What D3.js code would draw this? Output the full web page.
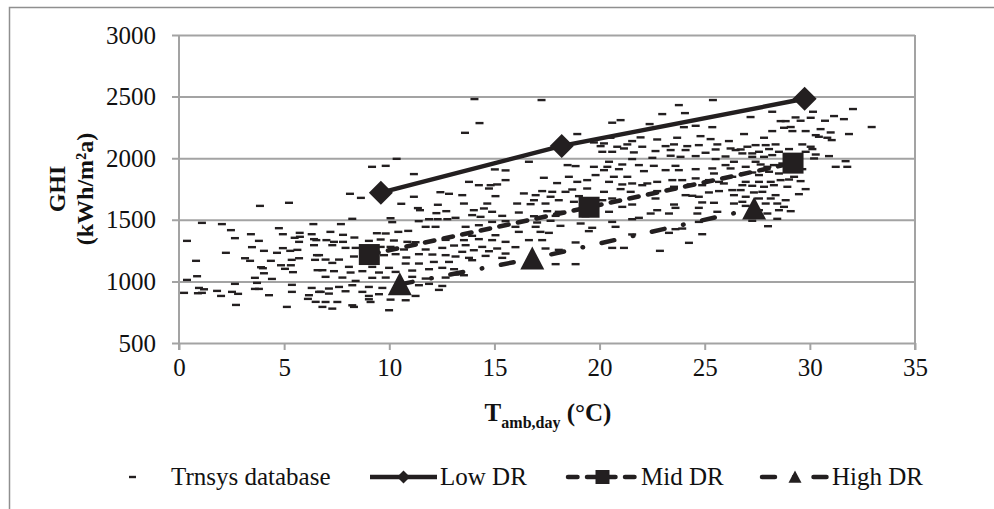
<!DOCTYPE html>
<html>
<head>
<meta charset="utf-8">
<script src="https://cdn.jsdelivr.net/npm/d3@7"></script>
<style>
  body { margin: 0; background: #fff; }
  text { font-family: "Liberation Serif", "Times New Roman", serif; fill: #111; }
</style>
</head>
<body>
<div id="chart"></div>
<script>
// Axis ticks
const xTicks = [0, 5, 10, 15, 20, 25, 30, 35];
const yTicks = [500, 1000, 1500, 2000, 2500, 3000];

// Design-ratio curves [T_amb,day, GHI]
const lowDR = [[9.6, 1720], [18.2, 2100], [29.75, 2482]];
const midDR = [[9.05, 1218], [19.5, 1602], [29.2, 1960]];
const highDR = [[10.5, 976], [16.8, 1185], [27.35, 1590]];

// Trnsys database locations [T_amb,day, GHI]
const trnsysPoints = [
  [3.85,1613],[5.23,1638],[1.09,1475],[2.04,1465],[2.47,1416],[6.39,1465],[3.42,1383],[4.94,1383],
  [5.74,1394],[6.31,1383],[0.38,1329],[2.66,1351],[3.80,1329],[4.75,1432],[5.50,1354],[5.75,1362],
  [5.71,1321],[6.42,1343],[6.53,1335],[6.42,1294],[3.47,1278],[4.04,1248],[4.94,1270],[4.66,1232],
  [5.29,1248],[5.63,1256],[2.23,1232],[0.81,1167],[3.14,1188],[3.38,1167],[4.37,1167],[5.36,1175],
  [5.71,1188],[6.47,1175],[4.85,1131],[5.32,1131],[3.90,1115],[3.99,1107],[5.04,1102],[5.42,1075],
  [4.04,1066],[6.56,1213],[6.59,1091],[0.86,1042],[0.38,1012],[3.61,1029],[4.42,1020],[2.66,980],
  [3.71,988],[5.37,972],[0.95,947],[1.19,936],[0.24,907],[1.09,907],[1.81,923],[2.00,882],
  [2.52,915],[2.81,899],[3.61,939],[3.80,939],[4.28,888],[5.37,915],[6.31,947],[6.66,915],
  [6.18,888],[6.13,858],[6.50,834],[2.71,809],[5.13,793],[0.9,904],
  [10.35,1995],[9.18,1930],[9.83,1938],[11.17,1871],[8.13,1711],[8.65,1678],[12.43,1724],[12.84,1711],
  [11.17,1687],[10.57,1630],[12.31,1622],[11.36,1595],[11.46,1578],[12.24,1554],[12.71,1570],[8.24,1508],
  [10.06,1513],[10.14,1481],[11.40,1489],[11.89,1505],[12.30,1505],[12.76,1505],[13.15,1516],[7.70,1465],
  [7.20,1402],[7.80,1378],[8.34,1356],[9.41,1391],[9.83,1389],[10.43,1402],[10.90,1410],[11.73,1443],
  [12.20,1443],[7.01,1335],[7.37,1321],[7.80,1321],[9.03,1329],[9.59,1340],[10.22,1332],[10.86,1321],
  [11.25,1318],[12.68,1337],[7.29,1294],[7.92,1272],[8.40,1272],[9.03,1267],[9.59,1280],[10.06,1280],
  [10.70,1259],[11.73,1259],[12.52,1272],[13.08,1291],[6.66,1213],[7.61,1177],[6.97,1177],[8.32,1202],
  [9.03,1215],[9.75,1213],[10.30,1221],[10.81,1194],[11.41,1221],[12.05,1218],[12.68,1213],[13.15,1202],
  [7.29,1150],[8.08,1118],[9.19,1118],[9.99,1110],[10.78,1145],[11.41,1145],[12.12,1158],[12.84,1158],
  [6.82,1091],[7.37,1083],[8.16,1072],[8.72,1083],[9.51,1072],[10.30,1077],[11.09,1088],[11.89,1099],
  [12.52,1110],[13.08,1099],[6.97,1037],[7.77,1031],[8.40,1004],[9.19,1029],[9.83,1031],[11.09,1037],
  [11.73,1023],[12.68,1031],[13.15,1056],[7.13,942],[7.61,955],[8.24,969],[9.03,955],[9.67,947],
  [11.41,969],[11.89,980],[12.52,963],[6.74,915],[7.13,901],[7.92,920],[8.72,915],[9.03,882],
  [9.51,896],[11.25,882],[12.36,931],[6.97,833],[7.53,833],[8.24,806],[9.03,855],[9.11,833],
  [10.06,852],[10.78,847],[6.82,793],[7.29,779],[8.32,793],[9.99,766],
  [14.05,2480],[17.24,2472],[14.29,2285],[13.60,2206],[18.94,2196],[19.73,2128],[16.64,1971],[18.48,1944],
  [18.86,1936],[19.73,1930],[15.53,1901],[15.02,1909],[13.79,1808],[14.26,1781],[14.82,1781],[15.13,1787],
  [15.53,1822],[17.35,1841],[17.98,1798],[18.54,1849],[18.94,1808],[19.41,1822],[19.81,1863],[14.74,1754],
  [17.27,1733],[17.75,1727],[18.70,1746],[19.41,1754],[13.47,1700],[15.05,1692],[16.40,1714],[16.96,1700],
  [17.67,1687],[18.38,1727],[19.02,1692],[16.88,1659],[18.06,1659],[18.78,1646],[13.55,1632],[14.66,1632],
  [16.08,1632],[16.72,1627],[17.43,1632],[19.65,1619],[14.02,1578],[14.50,1592],[14.89,1565],[16.16,1559],
  [17.51,1570],[18.06,1565],[13.94,1538],[14.34,1524],[15.37,1532],[16.88,1529],[17.91,1532],[19.33,1529],
  [14.89,1483],[15.53,1489],[17.03,1478],[17.67,1492],[19.10,1470],[19.65,1435],[13.63,1443],[14.26,1456],
  [16.00,1443],[16.96,1443],[18.14,1451],[19.49,1408],[13.94,1370],[15.05,1375],[16.16,1402],[17.19,1402],
  [17.59,1394],[13.55,1335],[14.26,1343],[14.89,1335],[15.53,1321],[16.64,1335],[17.27,1335],[18.86,1316],
  [13.63,1294],[14.42,1280],[15.13,1267],[16.00,1278],[17.43,1267],[13.47,1240],[14.02,1253],[14.74,1245],
  [15.53,1226],[18.06,1256],[13.79,1191],[14.58,1207],[15.37,1191],[13.94,1172],[17.91,1140],[18.86,1140],
  [13.55,1050],
  [25.39,2472],[23.77,2431],[21.00,2309],[20.60,2288],[22.98,2358],[24.06,2366],[22.38,2277],[21.95,2169],
  [24.57,2263],[25.36,2252],[24.01,2252],[20.52,2166],[21.55,2139],[22.74,2152],[23.69,2166],[24.80,2179],
  [25.28,2155],[20.21,2120],[21.32,2112],[22.03,2093],[23.14,2098],[23.54,2112],[24.17,2098],[24.72,2106],
  [25.60,2112],[26.15,2139],[26.23,2079],[20.05,2098],[20.84,2093],[20.13,2052],[20.60,2052],[21.16,2079],
  [21.63,2047],[22.66,2058],[23.38,2066],[24.09,2066],[25.04,2044],[25.52,2071],[26.47,2066],[20.45,1971],
  [21.55,1993],[22.51,2003],[23.38,2020],[23.85,2011],[24.57,2017],[25.52,1993],[25.99,2014],[26.39,1971],
  [20.37,1930],[21.08,1949],[21.87,1944],[22.58,1938],[23.61,1938],[24.57,1911],[25.36,1917],[25.99,1944],
  [20.21,1903],[20.92,1911],[22.11,1895],[23.14,1903],[23.77,1903],[25.44,1876],[26.23,1917],[20.68,1849],
  [21.32,1849],[22.27,1795],[22.74,1808],[23.46,1822],[23.93,1822],[24.57,1836],[25.20,1822],[25.68,1808],
  [26.31,1849],[20.45,1808],[21.08,1787],[21.55,1795],[22.03,1781],[23.54,1768],[24.33,1787],[24.88,1781],
  [25.91,1795],[26.31,1741],[20.21,1727],[21.00,1749],[21.48,1727],[22.74,1733],[24.09,1700],[24.72,1687],
  [25.20,1722],[25.68,1733],[26.39,1700],[20.13,1659],[20.60,1673],[21.55,1624],[22.66,1673],[23.54,1624],
  [24.41,1695],[24.88,1641],[25.44,1638],[26.39,1632],[21.08,1605],[22.74,1578],[23.61,1597],[24.72,1597],
  [20.45,1565],[22.43,1551],[25.60,1565],[21.87,1516],[21.55,1505],[23.30,1551],[24.65,1551],[24.72,1483],
  [20.60,1483],[20.76,1443],[23.61,1424],[23.93,1429],[23.30,1394],[24.88,1383],[21.55,1381],[24.25,1313],
  [20.60,1272],[21.16,1272],[22.87,1248],
  [32.05,2399],[31.15,2342],[31.62,2317],[32.94,2253],[30.15,2377],[30.04,2328],[29.56,2304],[29.32,2331],
  [30.72,2304],[27.18,2334],[28.21,2377],[28.61,2301],[28.85,2301],[28.77,2247],[29.09,2253],[30.51,2236],
  [29.80,2220],[30.99,2209],[31.86,2196],[26.87,2196],[27.82,2166],[28.21,2220],[29.17,2220],[30.28,2187],
  [30.43,2174],[30.83,2166],[31.04,2147],[27.42,2106],[27.03,2093],[26.71,2071],[27.90,2106],[28.37,2112],
  [29.64,2112],[30.04,2093],[30.12,2074],[29.01,2074],[26.79,2039],[27.26,2039],[27.58,2052],[28.06,2074],
  [28.53,2052],[29.80,2052],[30.28,2030],[30.20,1998],[30.91,2017],[31.70,1976],[31.23,1930],[31.78,1930],
  [27.26,2011],[27.82,2011],[28.21,2025],[27.42,1971],[27.66,1949],[28.69,1957],[28.29,1944],[27.98,1930],
  [26.95,1930],[29.64,1911],[26.87,1876],[27.26,1884],[27.58,1863],[28.06,1890],[28.53,1876],[29.25,1849],
  [29.56,1814],[29.01,1827],[26.95,1808],[27.58,1808],[28.14,1808],[28.61,1822],[26.79,1781],[27.26,1776],
  [27.82,1768],[28.29,1781],[28.93,1768],[29.80,1749],[26.71,1741],[27.34,1722],[27.74,1727],[28.37,1700],
  [29.48,1708],[26.95,1687],[27.58,1673],[28.14,1673],[28.85,1659],[26.79,1646],[27.90,1632],[28.45,1632],
  [26.95,1613],[27.58,1578],[28.53,1578],[28.77,1605],[29.09,1570],[27.98,1551],[27.26,1492],[28.45,1508],
  [28.01,1448]
];

const legendItems = ["Trnsys database", "Low DR", "Mid DR", "High DR"];

const W = 994, H = 509;
const margin = { top: 35, right: 79, bottom: 166, left: 179 };
const width = W - margin.left - margin.right;
const height = H - margin.top - margin.bottom;
const fontSize = "25px";

const svg = d3.select("#chart").append("svg")
    .attr("width", W)
    .attr("height", H);

// outer chart frame (runs off the right and bottom edges)
svg.append("path")
    .attr("d", `M9.5,${H + 5}V7.5H${W + 5}`)
    .attr("fill", "none")
    .attr("stroke", "#8f8f8f")
    .attr("stroke-width", 1.5);

const g = svg.append("g")
    .attr("transform", `translate(${margin.left},${margin.top})`);

const x = d3.scaleLinear().domain([0, 35]).range([0, width]);
const y = d3.scaleLinear().domain([500, 3000]).range([height, 0]);

const gridColor = "#a3a3a3";

// Y axis with gridlines
const yAxis = g.append("g")
    .call(d3.axisLeft(y).tickValues(yTicks).tickSize(-width - 7).tickPadding(14).tickFormat(d3.format("d")));
yAxis.select(".domain").remove();
yAxis.selectAll(".tick line")
    .attr("x1", -7)
    .attr("x2", width)
    .attr("stroke", gridColor)
    .attr("stroke-width", 2);
yAxis.selectAll(".tick text")
    .attr("x", -23)
    .style("font-size", fontSize)
    .style("font-family", "'Liberation Serif', serif")
    .attr("fill", "#111");

// X axis
const xAxis = g.append("g")
    .attr("transform", `translate(0,${height})`)
    .call(d3.axisBottom(x).tickValues(xTicks).tickSize(7).tickPadding(8));
xAxis.select(".domain").remove();
xAxis.selectAll(".tick line").attr("stroke", gridColor).attr("stroke-width", 2);
xAxis.selectAll(".tick text")
    .style("font-size", fontSize)
    .style("font-family", "'Liberation Serif', serif")
    .attr("fill", "#111");

// plot area left/right borders
g.append("line").attr("x1", 0).attr("x2", 0).attr("y1", 0).attr("y2", height + 7)
    .attr("stroke", gridColor).attr("stroke-width", 2);
g.append("line").attr("x1", width).attr("x2", width).attr("y1", 0).attr("y2", height + 7)
    .attr("stroke", gridColor).attr("stroke-width", 2);

// scatter: short horizontal dashes
g.append("g").selectAll("rect")
    .data(trnsysPoints)
    .enter()
    .append("rect")
    .attr("x", d => x(d[0]) - 4)
    .attr("y", d => y(d[1]) - 1.2)
    .attr("width", 8)
    .attr("height", 2.4)
    .attr("fill", "#231f20");

const line = d3.line().x(d => x(d[0])).y(d => y(d[1]));
const lineColor = "#231f20";

const series = [
    { data: lowDR, dash: null, marker: "diamond" },
    { data: midDR, dash: "9.5,9.5", marker: "square" },
    { data: highDR, dash: "13,19,0.5,19", marker: "triangle" }
];

function markerPath(type, s) {
    if (type === "diamond") return `M0,${-s}L${s},0L0,${s}L${-s},0Z`;
    if (type === "square") return `M${-s},${-s}H${s}V${s}H${-s}Z`;
    return `M0,${-s}L${s},${s * 0.9}H${-s}Z`;
}
const markerSize = { diamond: 12, square: 10.5, triangle: 12 };

series.forEach(s => {
    g.append("path")
        .datum(s.data)
        .attr("d", line)
        .attr("fill", "none")
        .attr("stroke", lineColor)
        .attr("stroke-width", 4.5)
        .attr("stroke-linecap", s.dash ? "round" : "butt")
        .attr("stroke-dasharray", s.dash);

    g.append("g").selectAll("path")
        .data(s.data)
        .enter()
        .append("path")
        .attr("transform", d => `translate(${x(d[0])},${y(d[1])})`)
        .attr("d", markerPath(s.marker, markerSize[s.marker]))
        .attr("fill", lineColor);
});

// Y axis title
svg.append("text")
    .attr("transform", "translate(57,189) rotate(-90)")
    .attr("text-anchor", "middle")
    .attr("dy", "0.35em")
    .style("font-size", "24px")
    .style("font-weight", "bold")
    .text("GHI");
svg.append("text")
    .attr("transform", "translate(85,189) rotate(-90)")
    .attr("text-anchor", "middle")
    .attr("dy", "0.35em")
    .style("font-size", "24px")
    .style("font-weight", "bold")
    .text("(kWh/m²a)");

// X axis title
const xt = svg.append("text")
    .attr("x", 548)
    .attr("y", 421)
    .attr("text-anchor", "middle")
    .style("font-size", fontSize)
    .style("font-weight", "bold");
xt.append("tspan").text("T");
xt.append("tspan").attr("dy", 7).style("font-size", "16px").text("amb,day");
xt.append("tspan").attr("dy", -7).text(" (°C)");

// Legend
const legendY = 477;
const legend = svg.append("g");

legend.append("rect")
    .attr("x", 129).attr("y", legendY - 1.2)
    .attr("width", 7).attr("height", 2.4)
    .attr("fill", lineColor);

const legendLines = [
    { x1: 370, x2: 437, dash: null, marker: "diamond", size: 6.5, tx: 440 },
    { x1: 568, x2: 637, dash: "9.5,9.5", marker: "square", size: 7, tx: 641 },
    { x1: 762, x2: 828, dash: "13,19,0.5,19", marker: "triangle", size: 6.5, tx: 832 }
];

legendLines.forEach(l => {
    legend.append("line")
        .attr("x1", l.x1).attr("x2", l.x2)
        .attr("y1", legendY).attr("y2", legendY)
        .attr("stroke", lineColor)
        .attr("stroke-width", 4.5)
        .attr("stroke-linecap", l.dash ? "round" : "butt")
        .attr("stroke-dasharray", l.dash);
    legend.append("path")
        .attr("transform", `translate(${(l.x1 + l.x2) / 2},${legendY})`)
        .attr("d", markerPath(l.marker, l.size))
        .attr("fill", lineColor);
});

legend.selectAll("text.lg")
    .data(legendItems)
    .enter()
    .append("text")
    .attr("class", "lg")
    .attr("x", (d, i) => [171, 440, 641, 832][i])
    .attr("y", legendY + 8)
    .style("font-size", fontSize)
    .text(d => d);
</script>
</body>
</html>
